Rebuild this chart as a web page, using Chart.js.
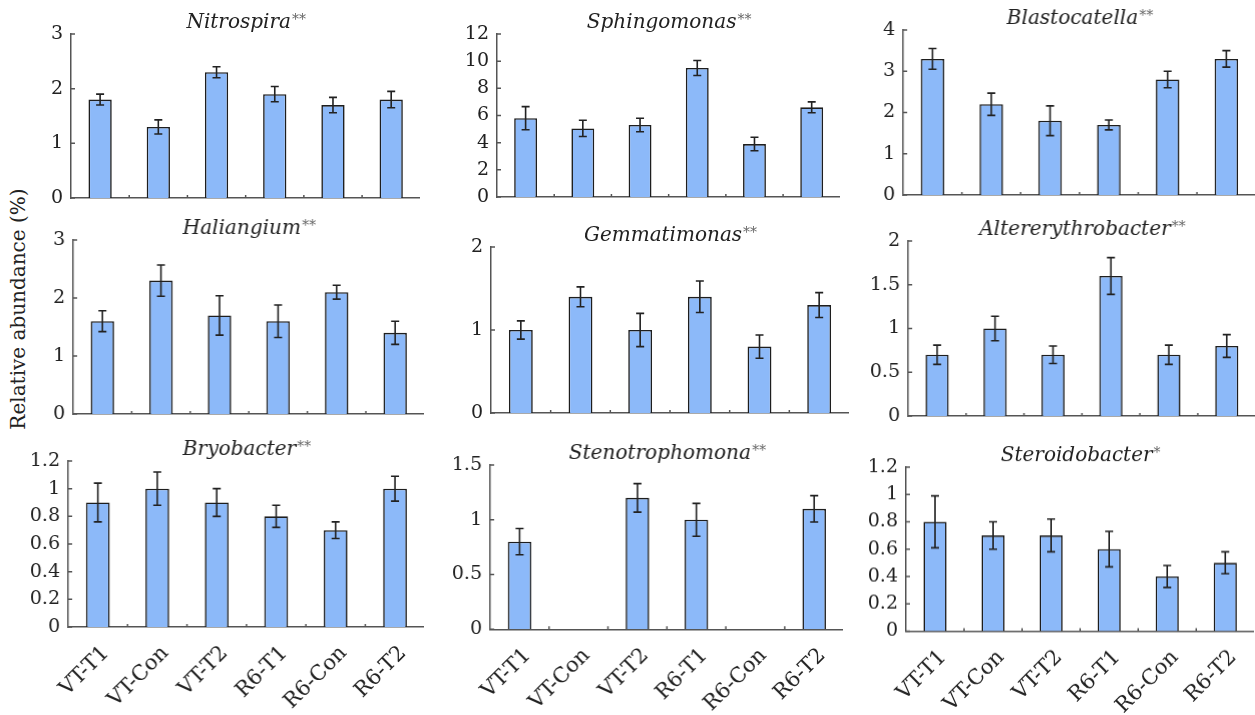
<!DOCTYPE html>
<html>
<head>
<meta charset="utf-8">
<script src="https://cdn.jsdelivr.net/npm/chart.js@4.4.1/dist/chart.umd.min.js"></script>
<style>
  body { margin: 0; background: #fff; }
  #wrap { position: relative; width: 1255px; height: 715px; overflow: hidden; }
  .panel { position: absolute; }
  #ytitle {
    position: absolute; left: 18px; top: 309px;
    transform: translate(-50%, -50%) rotate(-90deg);
    white-space: nowrap; font-family: "DejaVu Serif", serif; font-size: 20px; color: #222;
  }
</style>
</head>
<body>
<div id="wrap">
  <div id="ytitle">Relative abundance (%)</div>
</div>
<script>
const groups = ["VT-T1", "VT-Con", "VT-T2", "R6-T1", "R6-Con", "R6-T2"];

const genera = ["Nitrospira", "Sphingomonas", "Blastocatella",
                "Haliangium", "Gemmatimonas", "Altererythrobacter",
                "Bryobacter", "Stenotrophomona", "Steroidobacter"];
const signif = ["**", "**", "**", "**", "**", "**", "**", "**", "*"];

const means = [
    [1.8, 1.3, 2.3, 1.9, 1.7, 1.8],
    [5.8, 5.05, 5.3, 9.5, 3.9, 6.6],
    [3.3, 2.2, 1.8, 1.7, 2.8, 3.3],
    [1.6, 2.3, 1.7, 1.6, 2.1, 1.4],
    [1.0, 1.4, 1.0, 1.4, 0.8, 1.3],
    [0.7, 1.0, 0.7, 1.6, 0.7, 0.8],
    [0.9, 1.0, 0.9, 0.8, 0.7, 1.0],
    [0.8, 0, 1.2, 1.0, 0, 1.1],
    [0.8, 0.7, 0.7, 0.6, 0.4, 0.5]
];
const errors = [
    [0.1, 0.13, 0.1, 0.14, 0.14, 0.15],
    [0.85, 0.6, 0.5, 0.55, 0.5, 0.4],
    [0.25, 0.27, 0.36, 0.12, 0.2, 0.2],
    [0.18, 0.27, 0.34, 0.28, 0.12, 0.2],
    [0.11, 0.12, 0.2, 0.19, 0.14, 0.15],
    [0.11, 0.14, 0.1, 0.21, 0.11, 0.13],
    [0.14, 0.12, 0.1, 0.08, 0.06, 0.09],
    [0.12, 0, 0.13, 0.15, 0, 0.12],
    [0.19, 0.1, 0.12, 0.13, 0.08, 0.08]
];
const yMax = [3, 12, 4, 3, 2, 2, 1.2, 1.5, 1.2];
const yStep = [1, 2, 1, 1, 1, 0.5, 0.2, 0.5, 0.2];

// plot area boxes: axis x, top y, zero y, right x
const boxes = [
    [70.7, 34, 198, 420], [496.7, 34.3, 197.3, 840], [903.3, 30, 195, 1255],
    [73.3, 240, 414, 423.7], [491, 247.3, 413.3, 849], [908.3, 241, 416, 1255],
    [68.3, 460.7, 626.7, 424], [490, 465, 629.3, 842.6], [905.7, 467.3, 630.7, 1254]
];

const FONT = "DejaVu Serif";
const AXIS_W = 60, TOP_PAD = 36;

const errorBars = {
    id: "errorBars",
    afterDatasetsDraw(chart) {
        const ctx = chart.ctx;
        const meta = chart.getDatasetMeta(0);
        const y = chart.scales.y;
        const errs = chart.options.plugins.errorBars.errs;
        ctx.save();
        ctx.strokeStyle = "#222";
        ctx.lineWidth = 1.6;
        meta.data.forEach((bar, i) => {
            const v = chart.data.datasets[0].data[i];
            const e = errs[i];
            if (!e) return;
            const yTop = y.getPixelForValue(v + e);
            const yBot = y.getPixelForValue(v - e);
            const x = bar.x;
            ctx.beginPath();
            ctx.moveTo(x, yTop); ctx.lineTo(x, yBot);
            ctx.moveTo(x - 4, yTop); ctx.lineTo(x + 4, yTop);
            ctx.moveTo(x - 4, yBot); ctx.lineTo(x + 4, yBot);
            ctx.stroke();
        });
        ctx.restore();
    }
};

const innerTicks = {
    id: "innerTicks",
    afterDraw(chart) {
        const ctx = chart.ctx;
        const {x, y} = chart.scales;
        const area = chart.chartArea;
        ctx.save();
        ctx.strokeStyle = "#555";
        ctx.lineWidth = 1.5;
        ctx.beginPath();
        y.ticks.forEach(t => {
            const py = y.getPixelForValue(t.value);
            ctx.moveTo(area.left, py); ctx.lineTo(area.left + 4, py);
        });
        for (let i = 1; i < groups.length; i++) {
            const px = (x.getPixelForValue(i - 1) + x.getPixelForValue(i)) / 2;
            ctx.moveTo(px, area.bottom); ctx.lineTo(px, area.bottom - 3);
        }
        ctx.stroke();
        ctx.restore();
    }
};

const genusTitle = {
    id: "genusTitle",
    afterDraw(chart) {
        const o = chart.options.plugins.genusTitle;
        const ctx = chart.ctx;
        const area = chart.chartArea;
        ctx.save();
        ctx.fillStyle = "#222";
        ctx.textBaseline = "alphabetic";
        ctx.font = "italic 20px '" + FONT + "'";
        const w1 = ctx.measureText(o.name).width;
        ctx.font = "14px '" + FONT + "'";
        const w2 = ctx.measureText(o.mark).width;
        const cx = (area.left + area.right) / 2;
        const x0 = cx - (w1 + w2) / 2;
        const base = area.top - 6;
        ctx.font = "italic 20px '" + FONT + "'";
        ctx.fillText(o.name, x0, base);
        ctx.font = "14px '" + FONT + "'";
        ctx.fillStyle = "#666";
        ctx.fillText(o.mark, x0 + w1 + 1, base - 4);
        ctx.restore();
    }
};

const wrap = document.getElementById("wrap");

boxes.forEach((b, k) => {
    const [ax, top, zero, right] = b;
    const bottomRow = k >= 6;
    const xH = bottomRow ? 100 : 14;
    const left = ax - AXIS_W;
    const ctop = top - TOP_PAD;
    const w = right - left;
    const h = zero - ctop + xH;

    const div = document.createElement("div");
    div.className = "panel";
    div.style.left = left + "px";
    div.style.top = ctop + "px";
    div.style.width = w + "px";
    div.style.height = h + "px";
    const canvas = document.createElement("canvas");
    div.appendChild(canvas);
    wrap.appendChild(div);

    new Chart(canvas.getContext("2d"), {
        type: "bar",
        data: {
            labels: groups,
            datasets: [{
                data: means[k],
                backgroundColor: "#8cb9f9",
                borderColor: "#1e1e1e",
                borderWidth: 1.6,
                categoryPercentage: 1,
                barPercentage: 0.4
            }]
        },
        options: {
            responsive: true,
            maintainAspectRatio: false,
            animation: false,
            layout: { padding: { top: TOP_PAD, left: 0, right: 0, bottom: 0 } },
            plugins: {
                legend: { display: false },
                tooltip: { enabled: false },
                errorBars: { errs: errors[k] },
                genusTitle: { name: genera[k], mark: signif[k] }
            },
            scales: {
                x: {
                    grid: { display: false, drawTicks: false },
                    border: { display: true, color: "#555", width: 1.5 },
                    ticks: {
                        display: bottomRow,
                        minRotation: 45,
                        maxRotation: 45,
                        padding: 14,
                        labelOffset: 8,
                        color: "#222",
                        font: { family: FONT, size: 21 }
                    },
                    afterFit(scale) {
                        scale.height = xH;
                        scale.paddingLeft = 0;
                        scale.paddingRight = 0;
                    }
                },
                y: {
                    min: 0,
                    max: yMax[k],
                    grid: { display: false, drawTicks: false },
                    border: { display: true, color: "#555", width: 1.5 },
                    ticks: {
                        stepSize: yStep[k],
                        padding: 8,
                        color: "#222",
                        font: { family: FONT, size: 19 },
                        callback: v => String(Number(v.toFixed(2)))
                    },
                    afterFit(scale) {
                        scale.width = AXIS_W;
                        scale.paddingTop = 0;
                        scale.paddingBottom = 0;
                    }
                }
            }
        },
        plugins: [errorBars, innerTicks, genusTitle]
    });
});
</script>
</body>
</html>
